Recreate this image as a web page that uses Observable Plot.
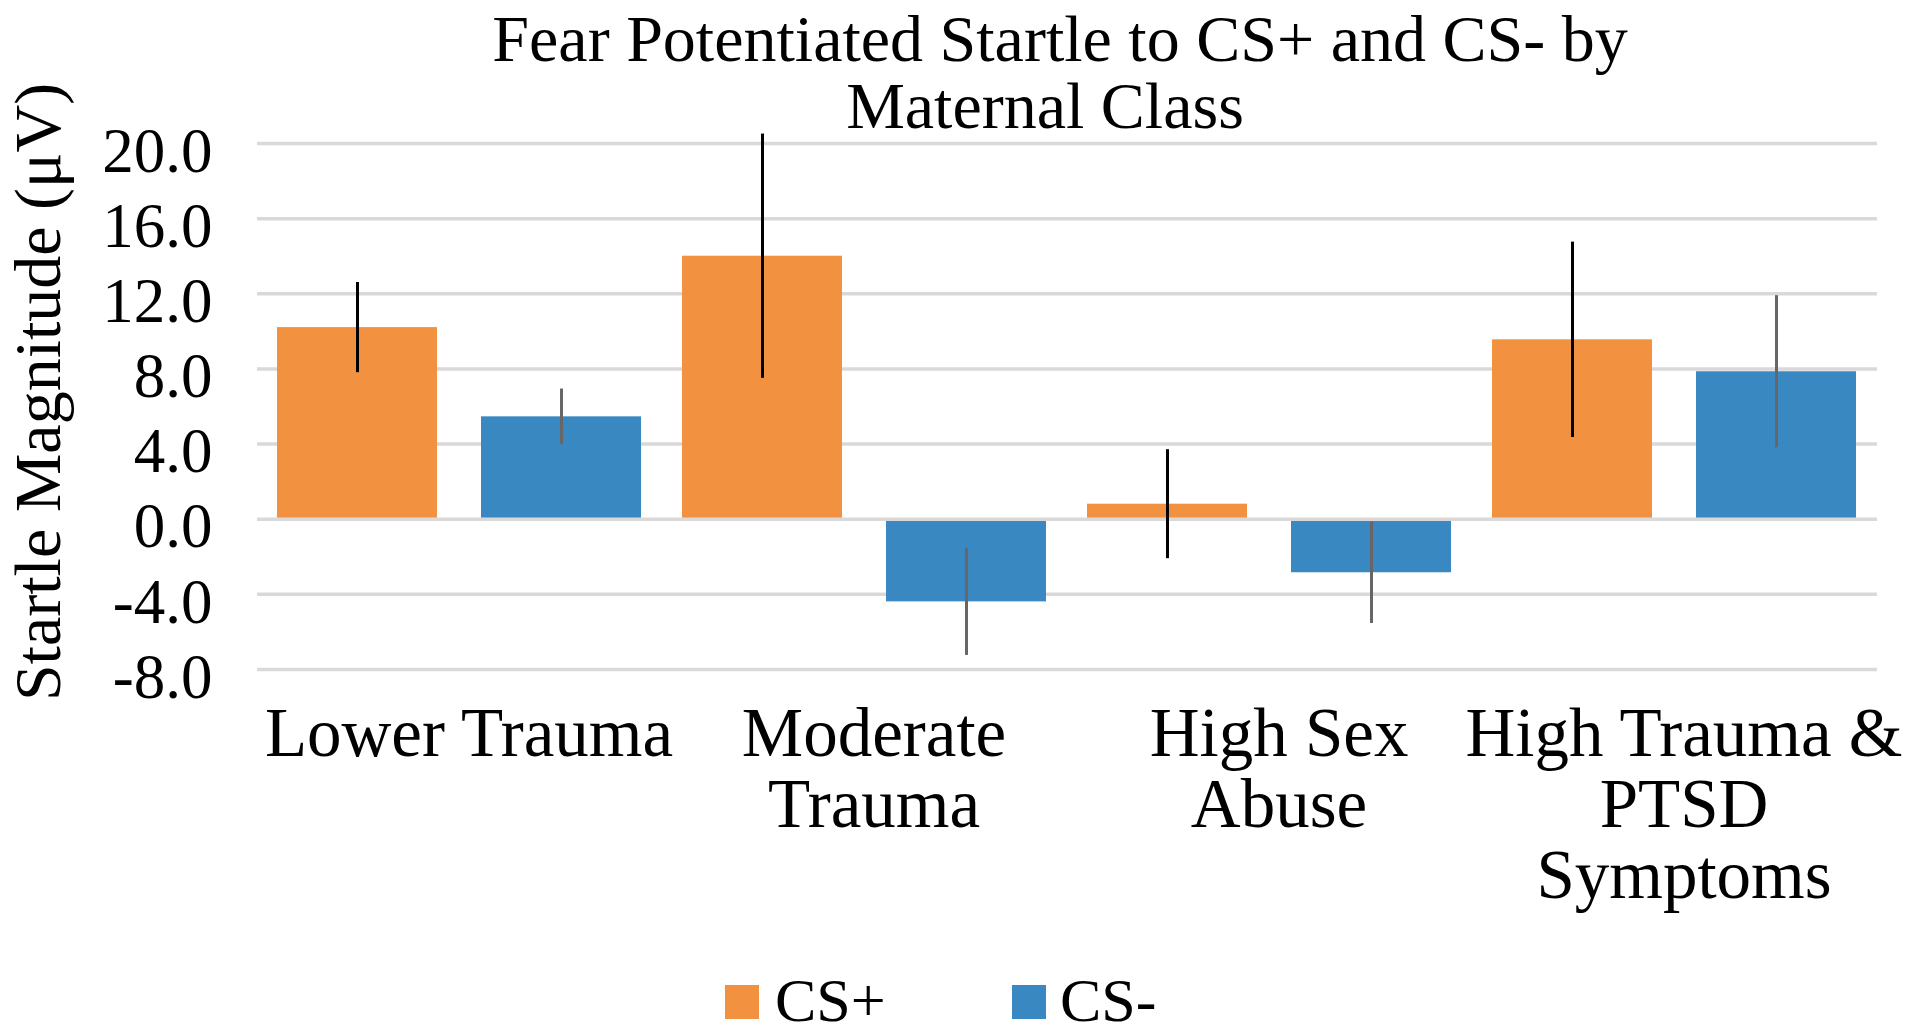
<!DOCTYPE html>
<html>
<head>
<meta charset="utf-8">
<script src="https://cdn.jsdelivr.net/npm/d3@7"></script>
<script src="https://cdn.jsdelivr.net/npm/@observablehq/plot@0.6"></script>
<style>
  html, body { margin: 0; padding: 0; background: #fff; }
  #wrap { position: relative; width: 1920px; height: 1036px; overflow: hidden; font-family: "Liberation Serif", serif; color: #000; }
  .title-line { position: absolute; width: 1600px; text-align: center; font-size: 66px; line-height: 74px; white-space: nowrap; }
  .lg-sw { position: absolute; width: 34px; height: 34px; }
  .lg-tx { position: absolute; font-size: 62px; line-height: 50px; white-space: nowrap; }
  #chart { position: absolute; left: 0; top: 0; }
</style>
</head>
<body>
<div id="wrap">
  <div id="chart"></div>
  <div id="title"></div>
  <div id="legend"></div>
</div>
<script>
// ---- data ----
const titleLines = ["Fear Potentiated Startle to CS+ and CS- by", "Maternal Class"];
const categories = ["Lower Trauma", "Moderate Trauma", "High Sex Abuse", "High Trauma & PTSD Symptoms"];
const categoryLabels = ["Lower Trauma", "Moderate\nTrauma", "High Sex\nAbuse", "High Trauma &\nPTSD\nSymptoms"];
const series = ["CS+", "CS-"];
const csPlusValues = [10.2, 14.0, 0.8, 9.55];
const csMinusValues = [5.45, -4.4, -2.85, 7.85];
const csPlusErrors = [2.4, 6.5, 2.9, 5.2];
const csMinusErrors = [1.48, 2.85, 2.7, 4.05];
const yTicks = [-8, -4, 0, 4, 8, 12, 16, 20];
const seriesColors = ["#F29240", "#3A88C2"];
const errorColors = ["#000000", "#666666"];
const yLabel = "Startle Magnitude (\u03BCV)";

// ---- table ----
const rows = [];
categories.forEach((c, i) => {
  rows.push({category: c, series: "CS+", value: csPlusValues[i], lo: csPlusValues[i] - csPlusErrors[i], hi: csPlusValues[i] + csPlusErrors[i]});
  rows.push({category: c, series: "CS-", value: csMinusValues[i], lo: csMinusValues[i] - csMinusErrors[i], hi: csMinusValues[i] + csMinusErrors[i]});
});

const W = 1920, H = 1036;
const plot = Plot.plot({
  width: W,
  height: H,
  marginLeft: 257,
  marginRight: 43,
  marginTop: 143,
  marginBottom: 367,
  style: {fontFamily: "Liberation Serif, serif", background: "transparent", color: "#000"},
  fx: {domain: categories, padding: 0, axis: null},
  x: {domain: series, paddingInner: 0.215, paddingOuter: 0.098, axis: null},
  y: {domain: [-8, 20], axis: null},
  color: {domain: series, range: seriesColors},
  marks: [
    Plot.ruleY(yTicks.filter(d => d !== 0), {stroke: "#D9D9D9", strokeWidth: 3.5}),
    Plot.barY(rows, {fx: "category", x: "series", y: "value", fill: "series"}),
    Plot.ruleY([0], {stroke: "#D9D9D9", strokeWidth: 3.5}),
    Plot.ruleX(rows, {fx: "category", x: "series", y1: "lo", y2: "hi", stroke: d => errorColors[series.indexOf(d.series)], strokeWidth: 3}),
    Plot.axisY(yTicks, {anchor: "left", tickSize: 0, tickPadding: 45, fontSize: 63, dy: 8, tickFormat: d => d.toFixed(1), label: null}),
    Plot.axisFx({anchor: "bottom", tickSize: 0, tickPadding: 36, fontSize: 69, lineHeight: 1.03, dx: 9, label: null,
      tickFormat: d => categoryLabels[categories.indexOf(d)]})
  ]
});
document.getElementById("chart").appendChild(plot);

// y-axis title (rotated)
d3.select(plot).append("text")
  .attr("transform", "translate(60,392) rotate(-90)")
  .attr("text-anchor", "middle")
  .attr("font-family", "Liberation Serif, serif")
  .attr("font-size", 66)
  .attr("fill", "#000")
  .text(yLabel);

// title (two lines, each centred on its own x as in the reference)
const titleEl = document.getElementById("title");
const titleTops = [2, 69];
const titleCenters = [1060, 1045];
titleLines.forEach((t, i) => {
  const d = document.createElement("div");
  d.className = "title-line";
  d.style.top = titleTops[i] + "px";
  d.style.left = (titleCenters[i] - 800) + "px";
  d.textContent = t;
  titleEl.appendChild(d);
});

// legend
const legend = document.getElementById("legend");
const swX = [725, 1012], txX = [775, 1060];
series.forEach((s, i) => {
  const sw = document.createElement("div");
  sw.className = "lg-sw";
  sw.style.left = swX[i] + "px";
  sw.style.top = "985px";
  sw.style.background = seriesColors[i];
  legend.appendChild(sw);
  const tx = document.createElement("div");
  tx.className = "lg-tx";
  tx.style.left = txX[i] + "px";
  tx.style.top = "975px";
  tx.textContent = s;
  legend.appendChild(tx);
});
</script>
</body>
</html>
